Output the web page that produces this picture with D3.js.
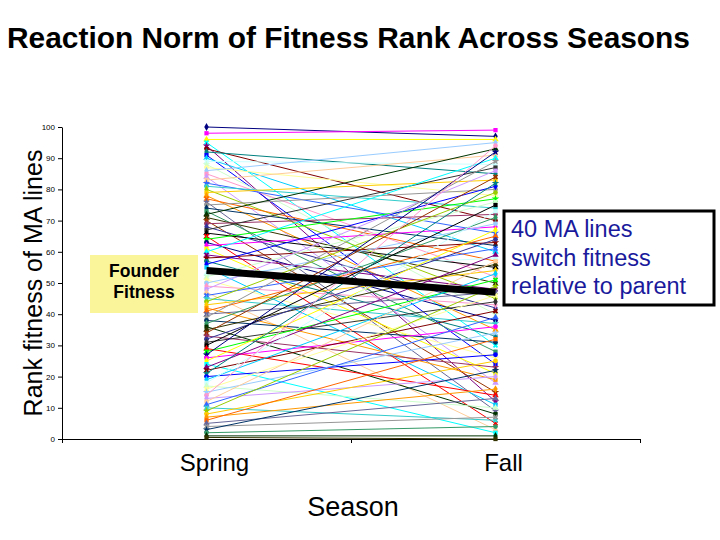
<!DOCTYPE html>
<html>
<head>
<meta charset="utf-8">
<script src="https://cdn.jsdelivr.net/npm/d3@7"></script>
<style>
  body { margin: 0; background: #fff; }
  text { font-family: Arial, "Liberation Sans", sans-serif; }
</style>
</head>
<body>
<svg width="720" height="540"></svg>
<script>
var seasons = ['Spring', 'Fall'];

// rank of each MA line in spring and in fall
var springRank = [100, 98, 96, 95, 94, 93, 92, 91, 90, 89, 88, 87, 86, 85, 84, 83, 82, 81, 80, 79,
  78, 77, 76, 75, 74, 73, 72, 71, 70, 69, 68, 67, 66, 65, 64, 63, 62, 61, 60, 59,
  58, 57, 56, 55, 53, 52, 51, 50, 49, 48, 47, 46, 45, 44, 43, 42, 41, 40, 39, 38,
  37, 36, 35, 34, 33, 32, 31, 30, 29, 28, 27, 26, 25, 24, 23, 22, 21, 20, 19, 18,
  17, 16, 15, 14, 13, 12, 11, 10, 9, 8, 7, 6, 5, 4, 3, 2, 1, 0.5];
var fallRank = [97, 99, 96, 30, 12, 70, 85, 24, 60, 88, 40, 78, 95, 52, 18, 91, 66, 74, 45, 83,
  35, 57, 9, 80, 62, 28, 93, 50, 15, 72, 42, 87, 55, 5, 77, 38, 68, 21, 90, 48,
  63, 33, 81, 11, 58, 76, 26, 69, 43, 86, 3, 61, 37, 79, 54, 19, 65, 47, 89, 31,
  71, 8, 56, 84, 23, 64, 44, 75, 14, 51, 92, 36, 67, 2, 59, 41, 82, 27, 53, 73,
  10, 46, 34, 94, 20, 57, 39, 6, 49, 25, 16, 32, 13, 7, 22, 4, 1, 0];
var founderRank = [54, 47];
var yTicks = [0, 10, 20, 30, 40, 50, 60, 70, 80, 90, 100];

var lineColors = ['#000080', '#FF00FF', '#FFFF00', '#00FFFF', '#800080', '#800000', '#008080', '#0000FF',
  '#00CCFF', '#CCFFFF', '#CCFFCC', '#FFFF99', '#99CCFF', '#FF99CC', '#CC99FF', '#FFCC99',
  '#3366FF', '#33CCCC', '#99CC00', '#FFCC00', '#FF9900', '#FF6600', '#666699', '#969696',
  '#003366', '#339966', '#003300', '#333300', '#993300', '#993366', '#333399', '#333333',
  '#000000', '#FF0000', '#00FF00'];

var markerShapes = [d3.symbolDiamond, d3.symbolSquare, d3.symbolTriangle, d3.symbolCross,
  d3.symbolStar, d3.symbolCircle];

var PLOT = { left: 62, right: 640, top: 127, bottom: 439 };

var svg = d3.select('svg');

var x = d3.scaleBand()
  .domain(seasons)
  .range([PLOT.left, PLOT.right]);

var y = d3.scaleLinear()
  .domain([0, 100])
  .range([PLOT.bottom, PLOT.top]);

function cx(s) { return x(s) + x.bandwidth() / 2; }

// title
svg.append('text')
  .attr('x', 7)
  .attr('y', 48)
  .attr('font-size', 30)
  .attr('font-weight', 'bold')
  .attr('textLength', 683)
  .attr('lengthAdjust', 'spacingAndGlyphs')
  .text('Reaction Norm of Fitness Rank Across Seasons');

// y axis
svg.append('g')
  .attr('transform', 'translate(' + PLOT.left + ',0)')
  .call(d3.axisLeft(y).tickValues(yTicks).tickSize(4).tickSizeOuter(0).tickPadding(3))
  .call(function(g) {
    g.selectAll('text').attr('font-size', 8).attr('font-family', 'Arial, sans-serif');
    g.selectAll('line, path').attr('stroke', '#000');
  });

// x axis with ticks on category boundaries
var xEdge = d3.scaleLinear().domain([0, seasons.length]).range([PLOT.left, PLOT.right]);
svg.append('g')
  .attr('transform', 'translate(0,' + PLOT.bottom + ')')
  .call(d3.axisBottom(xEdge).tickValues(d3.range(seasons.length + 1)).tickFormat('').tickSize(4).tickSizeOuter(0))
  .call(function(g) {
    g.selectAll('line, path').attr('stroke', '#000');
  });

svg.selectAll('.cat-label')
  .data(seasons)
  .enter().append('text')
  .attr('class', 'cat-label')
  .attr('x', function(d) { return cx(d) + 8; })
  .attr('y', 471)
  .attr('text-anchor', 'middle')
  .attr('font-size', 24)
  .text(function(d) { return d; });

svg.append('text')
  .attr('x', 353)
  .attr('y', 516)
  .attr('text-anchor', 'middle')
  .attr('font-size', 27)
  .text('Season');

svg.append('text')
  .attr('transform', 'translate(42,283) rotate(-90)')
  .attr('text-anchor', 'middle')
  .attr('font-size', 25)
  .text('Rank fitness of MA lines');

// MA lines
var lineData = springRank.map(function(s, i) {
  return { vals: [s, fallRank[i]], color: lineColors[i % lineColors.length], shape: markerShapes[i % markerShapes.length] };
});

var line = d3.line()
  .x(function(d, i) { return cx(seasons[i]); })
  .y(function(d) { return y(d); });

var series = svg.append('g').selectAll('.ma')
  .data(lineData)
  .enter().append('g')
  .attr('class', 'ma');

series.append('path')
  .attr('d', function(d) { return line(d.vals); })
  .attr('fill', 'none')
  .attr('stroke', function(d) { return d.color; })
  .attr('stroke-width', 1);

series.selectAll('.pt')
  .data(function(d) { return d.vals.map(function(v, i) { return { v: v, i: i, color: d.color, shape: d.shape }; }); })
  .enter().append('path')
  .attr('class', 'pt')
  .attr('transform', function(p) {
    return 'translate(' + cx(seasons[p.i]) + ',' + y(p.v) + ')' + (p.shape === d3.symbolCross ? ' rotate(45)' : '');
  })
  .attr('d', function(p) { return d3.symbol().type(p.shape).size(18)(); })
  .attr('fill', function(p) { return p.color; });

// founder
svg.append('path')
  .attr('d', line(founderRank))
  .attr('fill', 'none')
  .attr('stroke', '#000')
  .attr('stroke-width', 7);

// founder label box
var fb = svg.append('g');
fb.append('rect')
  .attr('x', 90).attr('y', 255).attr('width', 108).attr('height', 58)
  .attr('fill', '#FAF59B');
fb.selectAll('text')
  .data(['Founder', 'Fitness'])
  .enter().append('text')
  .attr('x', 144)
  .attr('y', function(d, i) { return 277 + i * 21; })
  .attr('text-anchor', 'middle')
  .attr('font-size', 17.5)
  .attr('font-weight', 'bold')
  .text(function(d) { return d; });

// annotation box
var ab = svg.append('g');
ab.append('rect')
  .attr('x', 504).attr('y', 211).attr('width', 210).attr('height', 94)
  .attr('fill', '#fff')
  .attr('stroke', '#000')
  .attr('stroke-width', 3);
ab.selectAll('text')
  .data(['40 MA lines', 'switch fitness', 'relative to parent'])
  .enter().append('text')
  .attr('x', 511)
  .attr('y', function(d, i) { return 237 + i * 28.5; })
  .attr('font-size', 23.5)
  .attr('fill', '#1A1A9C')
  .text(function(d) { return d; });
</script>
</body>
</html>
